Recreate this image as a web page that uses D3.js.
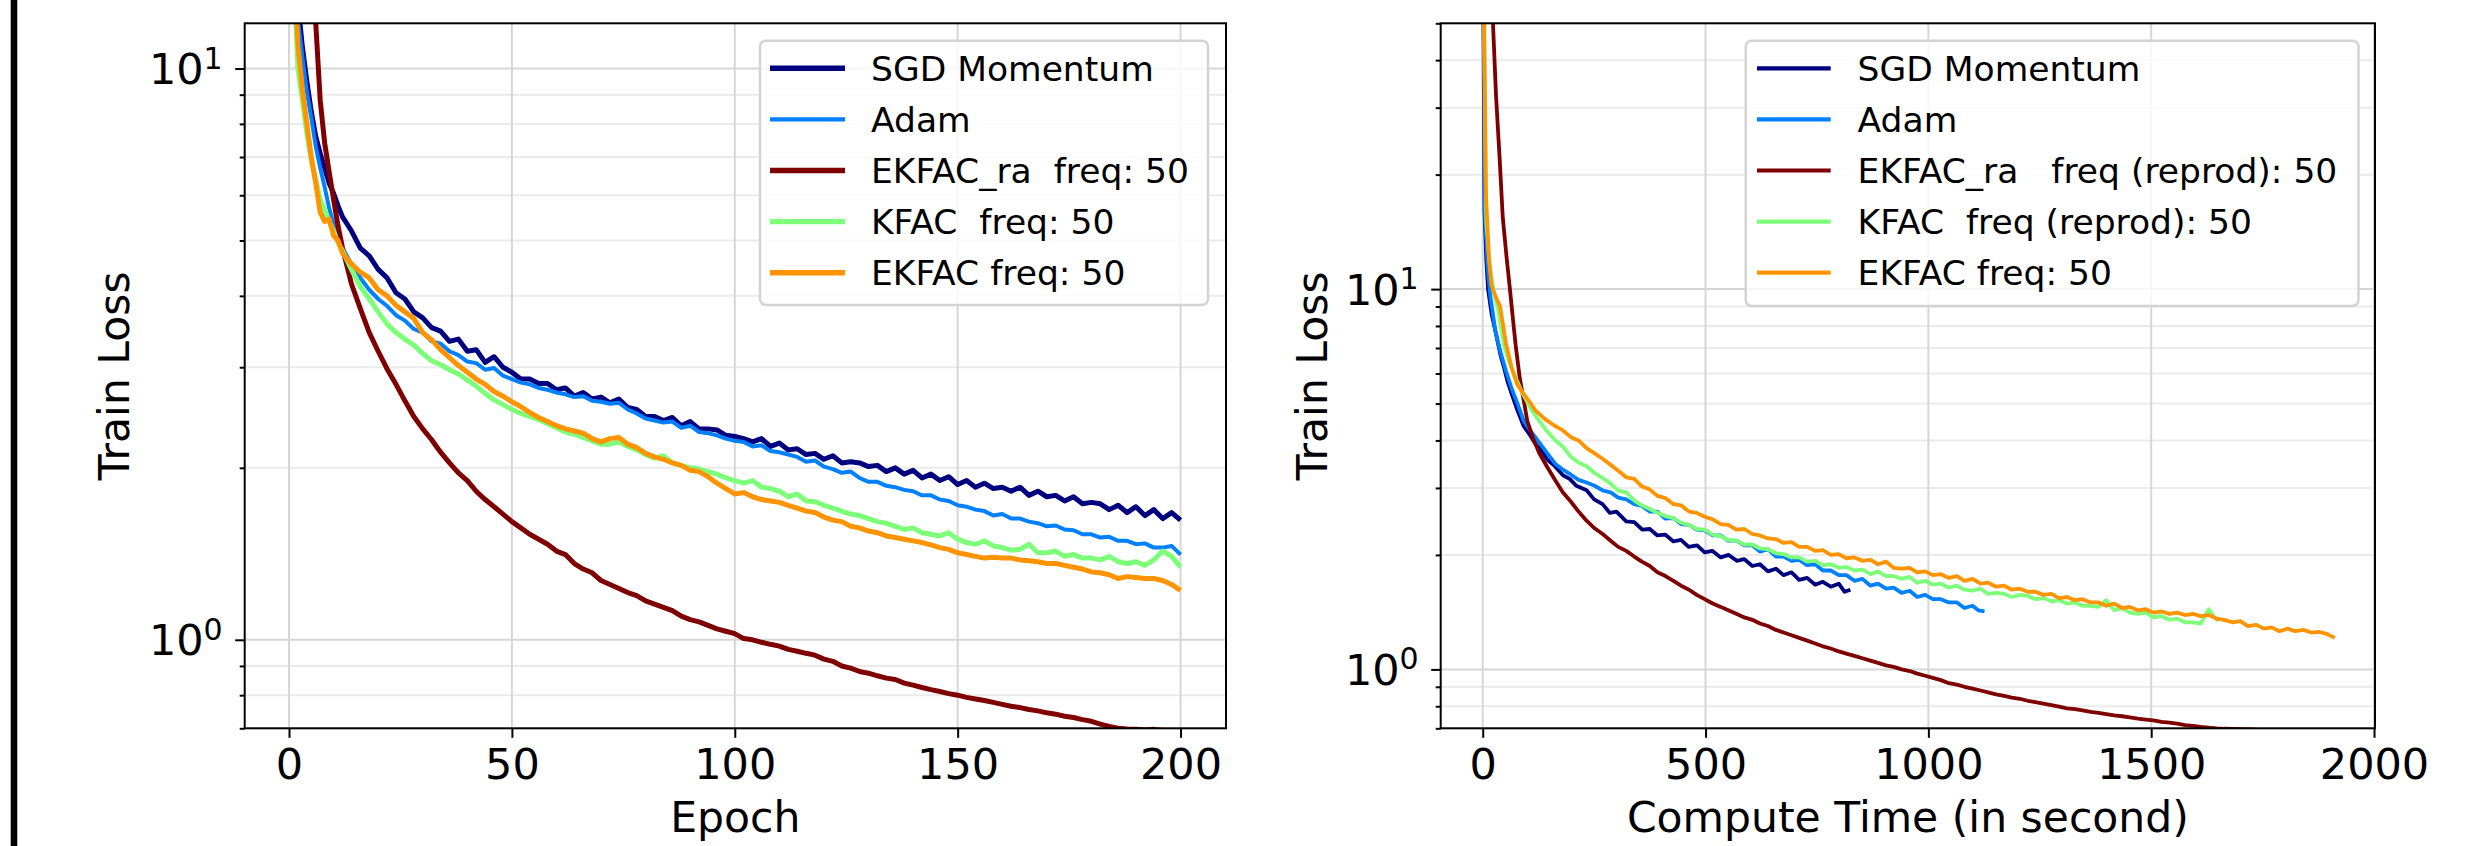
<!DOCTYPE html>
<html>
<head>
<meta charset="utf-8">
<script src="https://cdn.jsdelivr.net/npm/d3@7"></script>
<style>
  html, body { margin: 0; padding: 0; background: #fff; }
  svg { display: block; font-family: "DejaVu Sans", sans-serif; }
  .legend text { white-space: pre; }
</style>
</head>
<body>
<svg id="chart" width="2475" height="846"></svg>
<script>
// ---- data: left panel (train loss per epoch) ----
const EPOCHS = [...d3.range(0, 13), ...d3.range(14, 201, 2)];

const SGD_LOSS = [200, 20, 13, 10.9, 9.5, 8.4, 7.6, 7.1, 6.7, 6.3, 6.05, 5.75, 5.5,
  5.2, 4.85, 4.7, 4.45, 4.3, 4.05, 3.95, 3.75, 3.66, 3.52,
  3.47, 3.33, 3.36, 3.2, 3.22, 3.06, 3.13, 3.0, 2.94, 2.86,
  2.86, 2.81, 2.81, 2.74, 2.76, 2.67, 2.71, 2.64, 2.66, 2.6,
  2.64, 2.55, 2.53, 2.46, 2.46, 2.42, 2.45, 2.37, 2.41, 2.34,
  2.34, 2.33, 2.28, 2.27, 2.25, 2.22, 2.25, 2.18, 2.21, 2.15,
  2.16, 2.11, 2.12, 2.07, 2.1, 2.04, 2.05, 2.04, 2.01, 2.02,
  1.97, 2.0, 1.95, 1.98, 1.92, 1.95, 1.9, 1.93, 1.87, 1.9,
  1.85, 1.88, 1.84, 1.85, 1.82, 1.85, 1.79, 1.82, 1.78, 1.79,
  1.75, 1.78, 1.73, 1.74, 1.73, 1.69, 1.72, 1.67, 1.71, 1.65,
  1.69, 1.63, 1.67, 1.62];

const ADAM_LOSS = [200, 18, 12.2, 10.5, 9.1, 8.2, 7.3, 6.7, 6.2, 5.7, 5.35, 5.05, 4.85,
  4.55, 4.3, 4.1, 3.95, 3.84, 3.7, 3.62, 3.5, 3.45, 3.33,
  3.3, 3.2, 3.15, 3.07, 3.05, 2.97, 2.99, 2.9, 2.86, 2.82,
  2.80, 2.76, 2.74, 2.71, 2.69, 2.66, 2.67, 2.62, 2.61, 2.59,
  2.6, 2.53, 2.49, 2.44, 2.42, 2.40, 2.41, 2.35, 2.37, 2.31,
  2.30, 2.28, 2.25, 2.23, 2.22, 2.18, 2.19, 2.14, 2.13, 2.11,
  2.09, 2.05, 2.06, 2.01, 1.99, 1.96, 1.97, 1.92, 1.89, 1.89,
  1.86, 1.85, 1.83, 1.82, 1.79, 1.79, 1.76, 1.75, 1.72, 1.71,
  1.69, 1.68, 1.65, 1.66, 1.63, 1.63, 1.61, 1.60, 1.58, 1.585,
  1.56, 1.555, 1.53, 1.53, 1.51, 1.515, 1.49, 1.49, 1.47, 1.475,
  1.45, 1.45, 1.46, 1.41];

const EKFAC_RA_LOSS = [400, 150, 70, 42, 25, 16, 12, 8.8, 7.4, 6.6, 5.9, 5.3, 4.85,
  4.2, 3.8, 3.45, 3.2, 2.98, 2.8, 2.62, 2.46, 2.34, 2.24,
  2.13, 2.04, 1.96, 1.9, 1.82, 1.76, 1.71, 1.66, 1.61, 1.57,
  1.53, 1.50, 1.47, 1.43, 1.41, 1.36, 1.33, 1.31, 1.27, 1.25,
  1.23, 1.21, 1.195, 1.17, 1.155, 1.14, 1.125, 1.10, 1.085, 1.075,
  1.06, 1.045, 1.035, 1.025, 1.005, 1.0, 0.99, 0.982, 0.975, 0.962,
  0.955, 0.947, 0.94, 0.925, 0.917, 0.9, 0.892, 0.88, 0.874, 0.865,
  0.857, 0.852, 0.84, 0.833, 0.825, 0.818, 0.812, 0.805, 0.8, 0.793,
  0.788, 0.783, 0.777, 0.771, 0.765, 0.761, 0.755, 0.751, 0.745, 0.741,
  0.735, 0.731, 0.725, 0.72, 0.712, 0.705, 0.70, 0.698, 0.697, 0.695,
  0.697, 0.694, 0.692, 0.69];

const KFAC_LOSS = [200, 15, 10, 8.8, 7.7, 6.9, 6.4, 5.9, 5.65, 5.4, 5.2, 4.95, 4.8,
  4.45, 4.15, 3.95, 3.75, 3.57, 3.45, 3.36, 3.28, 3.17, 3.08,
  3.03, 2.97, 2.92, 2.85, 2.78, 2.7, 2.63, 2.58, 2.53, 2.49,
  2.46, 2.43, 2.39, 2.35, 2.31, 2.29, 2.26, 2.23, 2.2, 2.2,
  2.22, 2.18, 2.15, 2.11, 2.08, 2.1, 2.04, 2.02, 2.0, 1.99,
  1.97, 1.95, 1.92, 1.90, 1.88, 1.9, 1.85, 1.84, 1.82, 1.78,
  1.8, 1.75, 1.745, 1.72, 1.7, 1.68, 1.66, 1.65, 1.63, 1.61,
  1.60, 1.58, 1.56, 1.57, 1.54, 1.53, 1.52, 1.54, 1.5, 1.48,
  1.47, 1.49, 1.46, 1.45, 1.435, 1.44, 1.47, 1.42, 1.42, 1.43,
  1.40, 1.41, 1.39, 1.39, 1.38, 1.40, 1.37, 1.36, 1.37, 1.35,
  1.38, 1.43, 1.40, 1.34];

const EKFAC_LOSS = [200, 16, 11, 9.2, 8.0, 7.0, 6.3, 5.6, 5.4, 5.45, 5.1, 5.0, 4.75,
  4.55, 4.4, 4.3, 4.1, 4.0, 3.85, 3.75, 3.65, 3.45, 3.35,
  3.22, 3.12, 3.02, 2.94, 2.86, 2.8, 2.72, 2.67, 2.61, 2.56,
  2.5, 2.45, 2.41, 2.37, 2.34, 2.32, 2.3, 2.25, 2.22, 2.25,
  2.26, 2.2, 2.17, 2.12, 2.09, 2.07, 2.04, 2.02, 1.98, 1.97,
  1.93, 1.88, 1.84, 1.80, 1.81, 1.78, 1.76, 1.75, 1.74, 1.72,
  1.70, 1.68, 1.67, 1.64, 1.62, 1.61, 1.58, 1.57, 1.55, 1.54,
  1.52, 1.51, 1.50, 1.49, 1.48, 1.466, 1.45, 1.44, 1.42, 1.41,
  1.40, 1.39, 1.395, 1.39, 1.39, 1.38, 1.375, 1.37, 1.36, 1.36,
  1.35, 1.34, 1.33, 1.315, 1.31, 1.30, 1.28, 1.29, 1.285, 1.28,
  1.28, 1.27, 1.25, 1.22];

// ---- data: right panel (train loss against compute time, seconds) ----
const SGD_TIME = [0, 4, 8, 12, 20, 30, 40, 48, 56, 65, 78, 92, 105, 118, 131, 145, 160, 180, 195, 210,
  233, 250, 269, 285, 300, 322, 340, 358, 375, 392, 410, 428, 445, 462, 481, 498, 515, 534, 552, 570,
  587, 605, 622, 640, 658, 675, 693, 710, 728, 746, 763, 781, 799, 812, 825];
const SGD_TLOSS = [120, 16, 12, 10, 8.6, 7.6, 6.7, 6.2, 5.7, 5.3, 4.8, 4.36, 4.15, 3.92, 3.78, 3.56, 3.44, 3.24, 3.17, 3.04,
  2.96, 2.8, 2.72, 2.58, 2.6, 2.45, 2.44, 2.33, 2.34, 2.25, 2.26, 2.17, 2.19, 2.1, 2.12, 2.03, 2.05, 1.97, 2.0, 1.93,
  1.95, 1.87, 1.89, 1.81, 1.84, 1.77, 1.8, 1.72, 1.74, 1.67, 1.7, 1.65, 1.68, 1.6, 1.62];

const ADAM_TIME = [0, 5, 11, 17, 28, 39, 52, 65, 78, 92, 110, 127, 145, 163, 180, 198, 215, 233, 251, 270,
  287, 304, 322, 340, 357, 375, 392, 410, 428, 445, 463, 480, 498, 516, 534, 551, 569, 587, 605, 622,
  640, 658, 675, 693, 710, 728, 746, 763, 781, 799, 816, 834, 852, 870, 887, 905, 922, 940, 958, 975,
  993, 1010, 1028, 1046, 1064, 1081, 1099, 1112, 1126];
const ADAM_TLOSS = [120, 16, 11.5, 9.6, 7.8, 6.88, 6.1, 5.47, 5.0, 4.5, 4.2, 3.95, 3.7, 3.47, 3.35, 3.25, 3.15, 3.1, 3.04, 2.95,
  2.92, 2.83, 2.8, 2.72, 2.69, 2.6, 2.6, 2.49, 2.5, 2.41, 2.4, 2.33, 2.32, 2.25, 2.25, 2.18, 2.18, 2.12, 2.12, 2.04,
  2.07, 1.98, 1.98, 1.93, 1.94, 1.88, 1.89, 1.82, 1.82, 1.77, 1.77, 1.71, 1.73, 1.66, 1.68, 1.63, 1.64, 1.59, 1.61, 1.55,
  1.57, 1.53, 1.53, 1.5, 1.5, 1.45, 1.47, 1.43, 1.42];

const EKFAC_RA_TIME = [0, 9, 18, 23, 30, 38, 45, 53, 61, 68, 74, 83, 92, 100, 113, 127, 145, 163, 180, 198,
  215, 233, 251, 269, 287, 304, 322, 340, 357, 375, 392, 410, 428, 445, 463, 480, 498, 516, 534, 551,
  569, 587, 605, 622, 640, 658, 675, 693, 710, 728, 746, 763, 781, 799, 816, 834, 852, 870, 887, 905,
  922, 940, 958, 975, 993, 1010, 1028, 1046, 1064, 1081, 1099, 1117, 1134, 1152, 1170, 1187, 1205, 1223, 1240, 1258,
  1276, 1293, 1311, 1329, 1346, 1364, 1382, 1399, 1417, 1435, 1452, 1470, 1488, 1505, 1523, 1541, 1558, 1576, 1594, 1611,
  1629, 1647, 1664, 1682, 1700, 1717, 1735];
const EKFAC_RA_TLOSS = [400, 150, 75, 50, 32, 22, 15.4, 12.3, 10, 8.3, 7.1, 5.85, 5.1, 4.5, 4.05, 3.7, 3.4, 3.14, 2.92, 2.76,
  2.6, 2.46, 2.35, 2.27, 2.18, 2.1, 2.05, 1.98, 1.92, 1.87, 1.8, 1.76, 1.71, 1.66, 1.62, 1.57, 1.53, 1.49, 1.46, 1.43,
  1.4, 1.37, 1.35, 1.32, 1.3, 1.27, 1.25, 1.23, 1.21, 1.19, 1.17, 1.15, 1.135, 1.115, 1.1, 1.085, 1.07, 1.055, 1.04, 1.025,
  1.015, 1.0, 0.99, 0.975, 0.962, 0.95, 0.937, 0.92, 0.912, 0.9, 0.89, 0.88, 0.87, 0.86, 0.852, 0.843, 0.837, 0.827, 0.82, 0.813,
  0.805, 0.798, 0.79, 0.786, 0.78, 0.773, 0.769, 0.763, 0.757, 0.753, 0.748, 0.742, 0.738, 0.734, 0.728, 0.724, 0.72, 0.714, 0.71, 0.706,
  0.703, 0.7, 0.698, 0.697, 0.696, 0.695, 0.694];

const KFAC_TIME = [0, 8, 16, 25, 34, 48, 60, 74, 90, 110, 127, 145, 163, 180, 198, 215, 233, 251, 270, 287,
  304, 322, 340, 357, 375, 392, 410, 428, 445, 463, 480, 498, 516, 534, 551, 569, 587, 605, 622, 640,
  658, 675, 693, 710, 728, 746, 763, 781, 799, 816, 834, 852, 870, 887, 905, 922, 940, 958, 975, 993,
  1010, 1028, 1046, 1064, 1081, 1099, 1117, 1134, 1152, 1170, 1187, 1205, 1223, 1240, 1258, 1276, 1293, 1311, 1329, 1346,
  1364, 1382, 1399, 1417, 1435, 1452, 1470, 1488, 1505, 1523, 1541, 1558, 1576, 1594, 1611, 1629, 1640, 1650];
const KFAC_TLOSS = [120, 15, 11.5, 9.8, 8.9, 7.1, 6.4, 5.85, 5.3, 4.8, 4.5, 4.22, 4.0, 3.85, 3.62, 3.5, 3.42, 3.28, 3.18, 3.08,
  2.95, 2.92, 2.78, 2.7, 2.64, 2.58, 2.53, 2.5, 2.43, 2.4, 2.34, 2.33, 2.26, 2.24, 2.19, 2.18, 2.13, 2.13, 2.08, 2.07,
  2.02, 2.01, 1.97, 1.97, 1.92, 1.93, 1.88, 1.89, 1.85, 1.86, 1.82, 1.83, 1.78, 1.81, 1.76, 1.76, 1.73, 1.75, 1.69, 1.71,
  1.67, 1.68, 1.64, 1.66, 1.62, 1.61, 1.63, 1.58, 1.59, 1.58, 1.55, 1.57, 1.56, 1.53, 1.54, 1.51, 1.52, 1.49, 1.5, 1.47,
  1.47, 1.46, 1.52, 1.43, 1.45, 1.41, 1.4, 1.41, 1.37, 1.38, 1.35, 1.36, 1.33, 1.33, 1.32, 1.44, 1.38, 1.34];

const EKFAC_TIME = [0, 7, 14, 20, 30, 39, 52, 65, 78, 92, 105, 118, 140, 163, 180, 198, 215, 233, 251, 269,
  287, 304, 322, 340, 357, 375, 392, 410, 428, 445, 463, 480, 498, 516, 534, 551, 569, 587, 605, 622,
  640, 658, 675, 693, 710, 728, 746, 763, 781, 799, 816, 834, 852, 870, 887, 905, 922, 940, 958, 975,
  993, 1010, 1028, 1046, 1064, 1081, 1099, 1117, 1134, 1152, 1170, 1187, 1205, 1223, 1240, 1258, 1276, 1293, 1311, 1329,
  1346, 1364, 1382, 1399, 1417, 1435, 1452, 1470, 1488, 1505, 1523, 1541, 1558, 1576, 1594, 1611, 1629, 1647, 1664, 1682,
  1700, 1717, 1735, 1753, 1770, 1788, 1806, 1823, 1841, 1859, 1876, 1894, 1912];
const EKFAC_TLOSS = [120, 18, 12, 10.2, 9.5, 9.0, 7.2, 6.2, 5.6, 5.3, 5.05, 4.8, 4.55, 4.36, 4.25, 4.08, 4.0, 3.82, 3.7, 3.58,
  3.45, 3.33, 3.2, 3.17, 3.03, 2.97, 2.86, 2.82, 2.72, 2.7, 2.6, 2.58, 2.52, 2.48, 2.41, 2.4, 2.33, 2.34, 2.27, 2.25,
  2.21, 2.2, 2.15, 2.16, 2.1, 2.1, 2.05, 2.06, 2.0, 2.01, 1.96, 1.97, 1.93, 1.94, 1.89, 1.92, 1.85, 1.84, 1.85, 1.8,
  1.81, 1.77, 1.78, 1.74, 1.76, 1.71, 1.73, 1.68, 1.69, 1.65, 1.66, 1.62, 1.63, 1.6, 1.6, 1.57, 1.58, 1.54, 1.55, 1.52,
  1.53, 1.5, 1.5, 1.47, 1.49, 1.45, 1.46, 1.43, 1.44, 1.41, 1.42, 1.4, 1.41, 1.39, 1.4, 1.38, 1.39, 1.36, 1.35, 1.33,
  1.34, 1.3, 1.31, 1.28, 1.29, 1.26, 1.28, 1.26, 1.27, 1.25, 1.255, 1.24, 1.21];

// ---- labels and ticks ----
const COLORS = ["#00007f", "#0080ff", "#7f0000", "#7dff7a", "#ff9400"];
const LEGEND_LEFT = ["SGD Momentum", "Adam", "EKFAC_ra  freq: 50", "KFAC  freq: 50", "EKFAC freq: 50"];
const LEGEND_RIGHT = ["SGD Momentum", "Adam", "EKFAC_ra   freq (reprod): 50", "KFAC  freq (reprod): 50", "EKFAC freq: 50"];
const X_TICKS_EPOCH = [0, 50, 100, 150, 200];
const X_TICKS_TIME = [0, 500, 1000, 1500, 2000];
const Y_MAJOR = [1, 10];
const Y_MINOR_LEFT = [0.7, 0.8, 0.9, 2, 3, 4, 5, 6, 7, 8, 9];
const Y_MINOR_RIGHT = [0.7, 0.8, 0.9, 2, 3, 4, 5, 6, 7, 8, 9, 20, 30, 40, 50];

const svg = d3.select("#chart");
const W = 2475, H = 846;

// thick black rule at the left edge of the picture
svg.append("rect").attr("x", 10.7).attr("y", 0).attr("width", 6.6).attr("height", H).attr("fill", "#000");

const panels = [
  {
    id: "left", left: 244.7, right: 1226, top: 23.3, bottom: 728.3,
    xDomain: [-9.94, 210.2], yDomain: [0.7, 12],
    xTicks: X_TICKS_EPOCH, yMinor: Y_MINOR_LEFT,
    xLabel: "Epoch", yLabelX: 129,
    series: [SGD_LOSS, ADAM_LOSS, EKFAC_RA_LOSS, KFAC_LOSS, EKFAC_LOSS].map(v => v.map((d, i) => [EPOCHS[i], d])),
    widths: [5, 4, 5, 5, 5],
    legend: { x: 760, y: 40.7, w: 448, h: 264.3, h0: 770, h1: 845, tx: 871, labels: LEGEND_LEFT }
  },
  {
    id: "right", left: 1440.7, right: 2375, top: 23.3, bottom: 728.3,
    xDomain: [-94.3, 2002.2], yDomain: [0.7, 50],
    xTicks: X_TICKS_TIME, yMinor: Y_MINOR_RIGHT,
    xLabel: "Compute Time (in second)", yLabelX: 1327,
    series: [[SGD_TIME, SGD_TLOSS], [ADAM_TIME, ADAM_TLOSS], [EKFAC_RA_TIME, EKFAC_RA_TLOSS],
             [KFAC_TIME, KFAC_TLOSS], [EKFAC_TIME, EKFAC_TLOSS]].map(([t, v]) => v.map((d, i) => [t[i], d])),
    widths: [3.8, 3.8, 3.8, 3.8, 3.8],
    legend: { x: 1745.7, y: 40.7, w: 612.8, h: 265.3, h0: 1757, h1: 1830.7, tx: 1857.6, labels: LEGEND_RIGHT }
  }
];

panels.forEach(p => {
  const x = d3.scaleLinear().domain(p.xDomain).range([p.left, p.right]);
  const y = d3.scaleLog().domain(p.yDomain).range([p.bottom, p.top]);
  const g = svg.append("g").attr("class", "panel-" + p.id);

  // grid: minor y first, then major y and x
  g.append("g").selectAll("line").data(p.yMinor).enter().append("line")
    .attr("x1", p.left).attr("x2", p.right)
    .attr("y1", d => y(d)).attr("y2", d => y(d))
    .attr("stroke", "#ebebeb").attr("stroke-width", 2);
  g.append("g").selectAll("line").data(Y_MAJOR).enter().append("line")
    .attr("x1", p.left).attr("x2", p.right)
    .attr("y1", d => y(d)).attr("y2", d => y(d))
    .attr("stroke", "#d6d6d6").attr("stroke-width", 2);
  g.append("g").selectAll("line").data(p.xTicks).enter().append("line")
    .attr("x1", d => x(d)).attr("x2", d => x(d))
    .attr("y1", p.top).attr("y2", p.bottom)
    .attr("stroke", "#d6d6d6").attr("stroke-width", 2);

  // lines, clipped to the axes
  const clipId = "clip-" + p.id;
  g.append("clipPath").attr("id", clipId).append("rect")
    .attr("x", p.left).attr("y", p.top)
    .attr("width", p.right - p.left).attr("height", p.bottom - p.top);

  const line = d3.line().x(d => x(d[0])).y(d => y(d[1]));
  g.append("g").attr("clip-path", `url(#${clipId})`)
    .selectAll("path").data(p.series).enter().append("path")
    .attr("d", line)
    .attr("fill", "none")
    .attr("stroke", (d, i) => COLORS[i])
    .attr("stroke-width", (d, i) => p.widths[i])
    .attr("stroke-linejoin", "round");

  // axes
  const xAxis = g.append("g").attr("transform", `translate(0,${p.bottom})`)
    .call(d3.axisBottom(x).tickValues(p.xTicks).tickSize(9.5).tickPadding(10.7).tickFormat(d3.format("d")));
  xAxis.select(".domain").remove();
  xAxis.selectAll("line").attr("stroke", "#000").attr("stroke-width", 2);
  xAxis.selectAll("text").attr("font-family", "DejaVu Sans").attr("font-size", 43).attr("fill", "#000");

  const yMinorAxis = g.append("g").attr("transform", `translate(${p.left},0)`)
    .call(d3.axisLeft(y).tickValues(p.yMinor).tickSize(5).tickFormat(""));
  yMinorAxis.select(".domain").remove();
  yMinorAxis.selectAll("line").attr("stroke", "#000").attr("stroke-width", 2);

  const yAxis = g.append("g").attr("transform", `translate(${p.left},0)`)
    .call(d3.axisLeft(y).tickValues(Y_MAJOR).tickSize(9.5).tickFormat(""));
  yAxis.select(".domain").remove();
  yAxis.selectAll("line").attr("stroke", "#000").attr("stroke-width", 2);

  // 10^n labels with a superscript
  const yl = g.append("g").selectAll("text").data(Y_MAJOR).enter().append("text")
    .attr("x", p.left - 22).attr("y", d => y(d) + 15.6)
    .attr("text-anchor", "end").attr("font-size", 43).attr("fill", "#000");
  yl.append("tspan").text("10");
  yl.append("tspan").attr("font-size", 30).attr("dy", -15.6).text(d => Math.round(Math.log10(d)));

  // frame
  g.append("rect")
    .attr("x", p.left).attr("y", p.top)
    .attr("width", p.right - p.left).attr("height", p.bottom - p.top)
    .attr("fill", "none").attr("stroke", "#000").attr("stroke-width", 2);

  // axis titles
  g.append("text")
    .attr("x", (p.left + p.right) / 2).attr("y", 832)
    .attr("text-anchor", "middle").attr("font-size", 42.5).attr("fill", "#000")
    .text(p.xLabel);
  g.append("text")
    .attr("transform", `translate(${p.yLabelX},${(p.top + p.bottom) / 2}) rotate(-90)`)
    .attr("text-anchor", "middle").attr("font-size", 42.5).attr("fill", "#000")
    .text("Train Loss");

  // legend
  const L = p.legend;
  const lg = g.append("g").attr("class", "legend");
  lg.append("rect")
    .attr("x", L.x).attr("y", L.y).attr("width", L.w).attr("height", L.h)
    .attr("rx", 6).attr("fill", "#fff").attr("fill-opacity", 0.8)
    .attr("stroke", "#d4d4d4").attr("stroke-width", 2.5);
  const rows = lg.selectAll("g.row").data(L.labels).enter().append("g").attr("class", "row")
    .attr("transform", (d, i) => `translate(0,${68.3 + i * 51.1})`);
  rows.append("line")
    .attr("x1", L.h0).attr("x2", L.h1).attr("y1", 0).attr("y2", 0)
    .attr("stroke", (d, i) => COLORS[i])
    .attr("stroke-width", (d, i) => p.widths[i] + 0.4);
  rows.append("text")
    .attr("x", L.tx).attr("y", 12.6)
    .attr("font-size", 34.5).attr("fill", "#000")
    .text(d => d);
});
</script>
</body>
</html>
